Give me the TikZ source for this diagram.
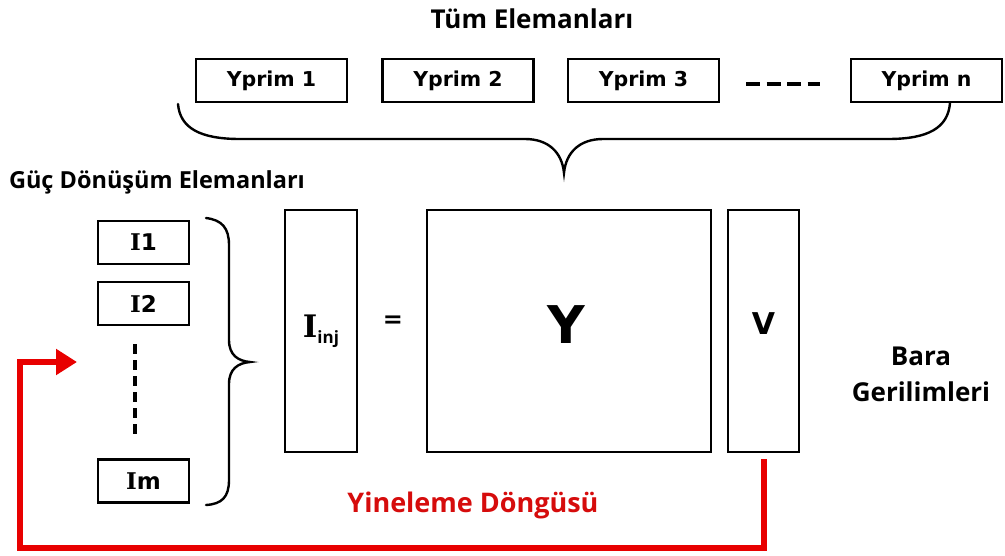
\documentclass[tikz,border=0pt]{standalone}
\usepackage{fontspec}
\setmainfont{Open Sans}
\newfontfamily\boxfont{DejaVu Sans}
\newfontfamily\slabfont{DejaVu Serif}
\usetikzlibrary{arrows.meta}
\definecolor{loopred}{RGB}{232,0,0}
\definecolor{txtred}{RGB}{214,12,12}
\begin{document}
\begin{tikzpicture}[x=1pt,y=-1pt,
  box/.style={draw=black,line width=2.8pt,fill=white,inner sep=0pt,minimum width=#1,align=center},
  ybox/.style={box=151pt,minimum height=43pt,font=\boxfont\bfseries\fontsize{20.5}{24}\selectfont},
  ibox/.style={box=91pt,minimum height=43pt,font=\boxfont\bfseries\fontsize{23}{24}\selectfont},
  tallbox/.style={box=#1,minimum height=242pt},
  bracestyle/.style={draw=black,line width=2.4pt,line cap=round},
  lbl/.style={font=\bfseries\fontsize{26}{36}\selectfont,inner sep=0pt,align=center},
  redloop/.style={draw=loopred,line width=6pt,-{Triangle[length=21pt,width=25pt]}}]
\useasboundingbox (0,0) rectangle (1005,555);
\fill[white] (0,0) rectangle (1005,555);

% titles
\node[lbl] (tum) at (532,19) {Tüm Elemanları};
\node[lbl,font=\bfseries\fontsize{23.5}{28}\selectfont] (guc) at (157,182) {Güç Dönüşüm Elemanları};
\node[lbl] (bara) at (921,374) {Bara\\Gerilimleri};
\node[lbl,text=txtred,font=\bfseries\fontsize{27}{30}\selectfont] (yin) at (473,505) {Yineleme Döngüsü};

% Yprim boxes
\node[ybox] (y1) at (271.5,80.5) {Yprim 1};
\node[ybox] (y2) at (458,80.5) {Yprim 2};
\node[ybox] (y3) at (643.5,80.5) {Yprim 3};
\node[ybox] (yn) at (926.5,80.5) {Yprim n};
\coordinate (d1) at (746,84);
\coordinate (d2) at (820,84);
\draw[line width=4pt,dash pattern=on 14pt off 6.5pt] (d1) -- (d2);

% top brace
\draw[bracestyle] (178,104) .. controls (180,128) and (200,139) .. (240,139) -- (525,139)
  .. controls (548,139) and (562,152) .. (564,173)
  .. controls (566,152) and (580,139) .. (603,139) -- (888,139)
  .. controls (928,139) and (948,128) .. (950,103);

% I boxes
\node[ibox] (i1) at (143.5,242.5) {{\slabfont I}1};
\node[ibox] (i2) at (143.5,303.5) {{\slabfont I}2};
\node[ibox] (im) at (143.5,481) {{\slabfont I}m};
\coordinate (v1) at (135,344);
\coordinate (v2) at (135,439);
\draw[line width=3.2pt,dash pattern=on 10pt off 6pt] (v1) -- (v2);

% left brace
\draw[bracestyle] (206,218) .. controls (222,220) and (229,228) .. (229,245) -- (229,340)
  .. controls (229,355) and (238,361) .. (250,362)
  .. controls (238,363) and (229,369) .. (229,384) -- (229,480)
  .. controls (229,497) and (222,504) .. (206,505);

% matrix boxes
\node[tallbox=72pt] (iinj) at (321,331) {};
\node[inner sep=0pt] at (iinj.center) {{\slabfont\bfseries\fontsize{31}{31}\selectfont I}\raisebox{-6pt}{\bfseries\fontsize{17}{17}\selectfont inj}};
\node[inner sep=0pt,font=\boxfont\bfseries\fontsize{24}{24}\selectfont] (eq) at (393,322) {=};
\node[tallbox=284pt] (ymat) at (569,331) {};
\node[inner sep=0pt,font=\boxfont\bfseries\fontsize{52}{52}\selectfont] at (566,325) {Y};
\node[tallbox=71pt] (vvec) at (763.5,331) {};
\node[inner sep=0pt,font=\boxfont\bfseries\fontsize{30}{30}\selectfont] at (763.5,324) {V};

% red loop
\coordinate (loopstart) at (763.5,459);
\coordinate (loopend) at (77,362);
\draw[redloop] (loopstart) -- (763.5,548) -- (20,548) -- (20,362) -- (loopend);
\end{tikzpicture}
\end{document}
